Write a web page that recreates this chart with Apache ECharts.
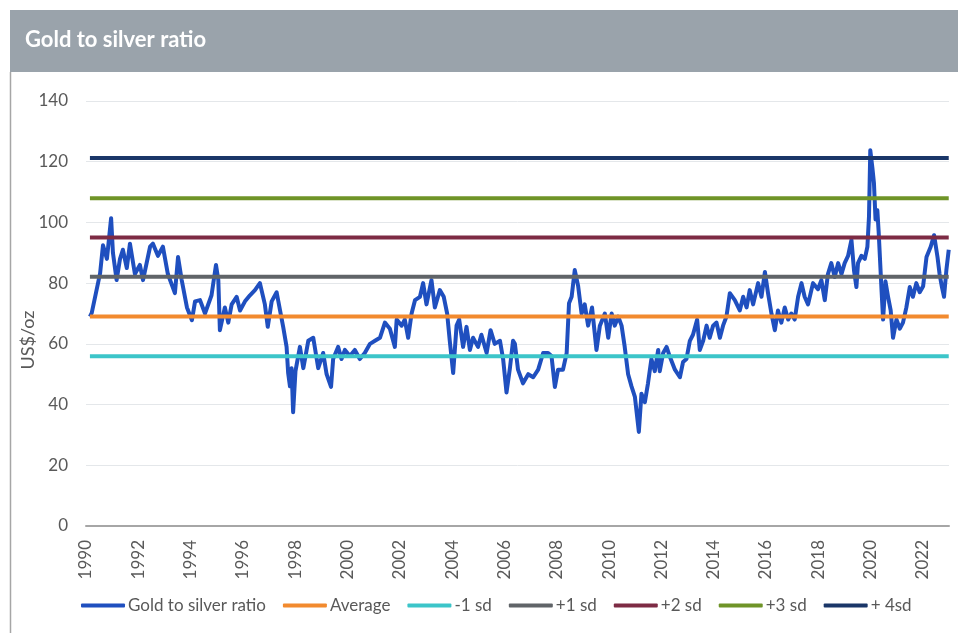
<!DOCTYPE html>
<html>
<head>
<meta charset="utf-8">
<script src="https://cdn.jsdelivr.net/npm/echarts@6/dist/echarts.min.js"></script>
<style>
html,body{margin:0;padding:0;background:#fff;}
#chart{width:958px;height:633px;}
</style>
</head>
<body>
<div id="chart"></div>
<script>
// ---- Data ----
const title = "Gold to silver ratio";
const yAxisName = "US$/oz";
const xTickYears = [1990,1992,1994,1996,1998,2000,2002,2004,2006,2008,2010,2012,2014,2016,2018,2020,2022];

const years = [
1990.15,1990.22,1990.54,1990.65,1990.80,1990.96,1991.03,1991.17,1991.30,1991.41,1991.56,1991.68,1991.87,1992.06,1992.18,1992.45,1992.56,1992.75,1992.94,1993.13,1993.40,1993.52,1993.66,1993.86,1994.05,1994.17,1994.36,1994.55,1994.80,1994.97,1995.06,1995.12,1995.31,
1995.44,1995.57,1995.76,1995.89,1996.08,1996.27,1996.46,1996.65,1996.84,1996.95,1997.10,1997.29,1997.42,1997.54,1997.67,1997.73,1997.80,1997.86,1997.92,1998.01,1998.18,1998.31,1998.50,1998.69,1998.88,1999.07,1999.20,1999.37,1999.45,1999.64,1999.77,1999.90,2000.09,2000.28,2000.47,2000.66,2000.86,
2001.05,2001.24,2001.43,2001.62,2001.81,2001.88,2002.07,2002.19,2002.32,2002.45,2002.58,2002.77,2002.89,2003.02,2003.21,2003.34,2003.53,2003.68,2003.81,2003.91,2004.04,2004.17,2004.27,2004.42,2004.55,2004.68,2004.80,2004.99,2005.12,2005.32,2005.47,2005.63,2005.83,2005.95,2006.08,2006.21,2006.33,
2006.40,2006.52,2006.71,2006.91,2007.10,2007.29,2007.48,2007.67,2007.80,2007.93,2008.05,2008.24,2008.38,2008.47,2008.57,2008.69,2008.82,2008.95,2009.07,2009.20,2009.35,2009.52,2009.65,2009.84,2009.97,2010.10,2010.22,2010.35,2010.48,2010.60,2010.73,2010.86,2010.99,2011.14,2011.24,2011.37,2011.49,2011.62,2011.75,2011.88,
2011.94,2012.07,2012.20,2012.32,2012.52,2012.71,2012.83,2012.96,2013.09,2013.21,2013.37,2013.47,2013.60,2013.73,2013.85,2013.98,2014.11,2014.24,2014.36,2014.49,2014.62,2014.81,2015.00,2015.13,2015.26,2015.38,2015.51,2015.70,2015.83,2015.96,2016.08,2016.21,2016.34,2016.46,2016.59,2016.72,2016.85,2016.97,2017.10,2017.23,2017.36,2017.48,
2017.61,2017.80,2017.99,2018.12,2018.25,2018.37,2018.50,2018.63,2018.76,2018.89,2019.01,2019.14,2019.27,2019.37,2019.46,2019.52,2019.65,2019.78,2019.88,2019.94,2019.99,2020.07,2020.13,2020.19,2020.26,2020.31,2020.42,2020.48,2020.57,2020.67,2020.77,2020.86,2020.99,2021.12,2021.24,2021.37,2021.50,2021.62,2021.75,2021.88,2022.01,2022.14,2022.30,2022.43,2022.56,2022.64,2022.73,2022.81,2022.90,2022.99
];

const ratio = [
69,70.2,83.3,92.5,88,101.4,90,81,88,91,85,93,83,86,81,92,93,89,92,83,76.7,88.6,81,72,67.8,74,74.4,70,76,86,81,64.5,72,
67,73,75.5,71,74,76,77.7,80,73,65.6,74,77,71,65.6,59,50.4,46,52,37.5,51,59,52,61,62,52,57,50,45.8,55,59,55,58,56,58,55,57,60,
61,62,67,65,59,68,66,68,62,70,74.4,75.5,80,73,81,72,77.7,75.5,70,61,50.4,66,68,59,65.6,58,62,59,63,57,64.5,60,61,55,44,52,61,
60,51.5,47,50,49,51.5,57,57,56,45.8,51.5,51.5,57,73.4,75.5,84.3,79,70,73,66,72,58,66,70,62,70,66,69,66,59,50,46,42.5,31,43.6,40.8,47,55,51,58,
51,57,59,55.9,51.5,49,54,55,61,63,68,58,61,66,62,66,67,62,66,69,76.7,74.4,71,75.5,72,77.7,73,80,75.5,83.7,76.7,70,64.5,71,67,72,68,70,68,75.5,80,75.5,
73,80,78,81,74.4,83,86.6,82,86.6,83,86.6,89,94.2,84,78.7,86.6,89,88,92,101.8,123.8,118,113,101,104,97,77.7,68,80.6,75.5,71,62,68,65,67,72,78.7,75.5,80,77,79,88.6,92,95.8,88.6,83,78.7,75.5,84.3,91
];

const refNames  = ["Average","-1 sd","+1 sd","+2 sd","+3 sd","+ 4sd"];
const refValues = [69.0, 55.9, 82.1, 95.0, 108.0, 121.2];
const refColors = ["#f28a2e","#3cc5c9","#606468","#7d2b44","#6f9428","#1a3668"];
const refStart = 1990.15, refEnd = 2022.99;

// ---- Chart ----
const chart = echarts.init(document.getElementById('chart'), null, {renderer:'canvas'});
const FONT = 'Lato';
const TXT = '#595959';

const ratioData = years.map((y,i)=>[y, ratio[i]]);
const series = [{
  name: title,
  type: 'line',
  data: ratioData,
  showSymbol: false,
  symbol: 'none',
  lineStyle: {color:'#1f4fbf', width: 4, join: 'round'},
  itemStyle: {color:'#1f4fbf'},
  z: 2
}];
refNames.forEach((n,i)=>{
  series.push({
    name: n,
    type: 'line',
    data: [[refStart, refValues[i]],[refEnd, refValues[i]]],
    showSymbol: false,
    symbol: 'none',
    lineStyle: {color: refColors[i], width: 4},
    itemStyle: {color: refColors[i]},
    z: 3
  });
});

chart.setOption({
  animation: false,
  backgroundColor: '#ffffff',
  textStyle: {fontFamily: FONT},
  graphic: [
    {type:'rect', left:10, top:10, shape:{width:948, height:62}, style:{fill:'#9aa3ab'}, z:-1},
    {type:'line', shape:{x1:10.5, y1:72, x2:10.5, y2:633}, style:{stroke:'#a6a6a6', lineWidth:1.5}},
    {type:'text', left:25, top:29, style:{text:title, fill:'#ffffff', font:'bold 22px Lato'}},
    {type:'text', x:28, y:340, rotation: Math.PI/2,
     style:{text:yAxisName, fill:TXT, font:'18px Lato', textAlign:'center', textVerticalAlign:'middle'}}
  ],
  grid: {left: 86, right: 9, top: 101, bottom: 107, containLabel: false},
  legend: {
    left: 76, top: 592,
    icon: 'roundRect',
    itemWidth: 44, itemHeight: 4,
    itemGap: 17,
    textStyle: {color: TXT, fontSize: 17, fontFamily: FONT, padding:[0,0,0,-2]},
    data: [title].concat(refNames)
  },
  xAxis: {
    type: 'value',
    min: 1990, max: 2023, interval: 2,
    axisLine: {show: true, lineStyle: {color: '#a6a6a6', width: 2}},
    axisTick: {show: false},
    splitLine: {show: false},
    axisLabel: {
      rotate: 90, color: TXT, fontSize: 17, fontFamily: FONT, margin: 14,
      showMaxLabel: false,
      formatter: v => (xTickYears.indexOf(v) >= 0 ? String(v) : '')
    }
  },
  yAxis: {
    type: 'value',
    min: 0, max: 140, interval: 20,
    axisLine: {show: false},
    axisTick: {show: false},
    splitLine: {lineStyle: {color: '#e4e7ea', width: 1}},
    axisLabel: {color: TXT, fontSize: 17, fontFamily: FONT, margin: 18}
  },
  series: series
});
</script>
</body>
</html>
